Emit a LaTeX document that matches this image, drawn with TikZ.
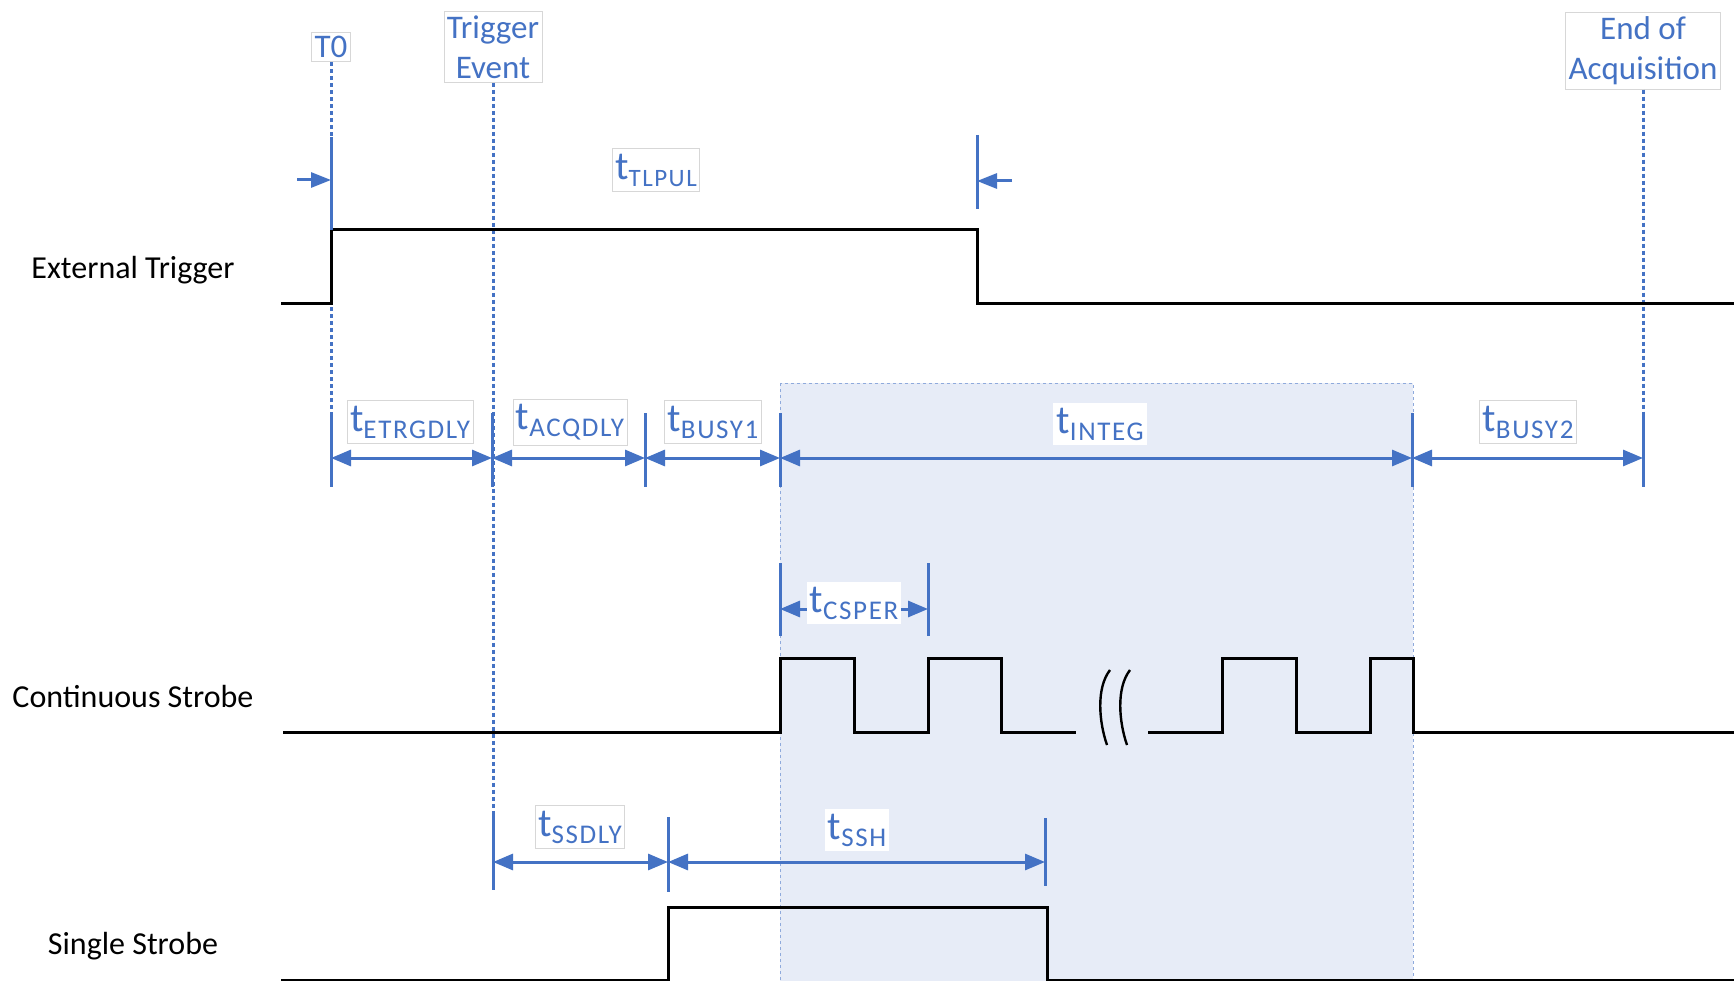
\documentclass[tikz,border=0pt]{standalone}
\usepackage{fontspec}
\setmainfont{Carlito}
\newfontfamily\subfont[LetterSpace=6]{Carlito}
\usetikzlibrary{arrows.meta}
\definecolor{lblue}{HTML}{4472C4}
\definecolor{shade}{RGB}{231,236,247}
\definecolor{shadeb}{HTML}{8FAADC}
\definecolor{boxg}{RGB}{215,215,215}
\newcommand{\tsub}[2][27]{{\fontsize{40}{44}\selectfont t}\raisebox{-7pt}{\subfont\fontsize{#1}{30}\selectfont #2}}
\begin{document}
\begin{tikzpicture}[x=1pt,y=-1pt,
  sig/.style={line width=3pt,black,line join=miter},
  tickbar/.style={line width=3pt,lblue},
  dimarr/.style={line width=3pt,lblue,{Triangle[length=20pt,width=16pt]}-{Triangle[length=20pt,width=16pt]}},
  onearr/.style={line width=3pt,lblue,-{Triangle[length=20pt,width=15pt]}},
  dotl/.style={lblue,line width=3pt,dash pattern=on 4pt off 3pt},
  lab/.style={font=\fontsize{33}{40}\selectfont,lblue,align=center,fill=white,draw=boxg,line width=0.8pt,inner xsep=3pt,inner ysep=4pt},
  tlab/.style={lblue,fill=white,draw=boxg,line width=0.8pt,inner xsep=3pt,inner ysep=5pt},
  tlabn/.style={lblue,fill=white,inner xsep=3pt,inner ysep=5pt},
  sname/.style={font=\fontsize{32}{40}\selectfont,black,inner sep=0pt}
]
\useasboundingbox (0,0) rectangle (1734,981);
\fill[white] (0,0) rectangle (1734,981);
% integration window
\draw[shadeb,fill=shade,dashed,line width=0.8pt] (780,383) rectangle (1413,990);

% signal names
\node[sname] (ext) at (133,270) {External Trigger};
\node[sname] (cont) at (133,697) {Continuous Strobe};
\node[sname] (single) at (133,946) {Single Strobe};

% event labels
\node[lab] (T0) at (331,47) {T0};
\node[lab] (trig) at (493,47) {Trigger\\Event};
\node[lab] (eoa) at (1643,51) {End of\\Acquisition};

% dotted event lines
\coordinate (T0b) at (331,413);
\coordinate (trigb) at (493,813);
\coordinate (eoab) at (1643,413);
\draw[dotl] (T0.south) -- (T0b);
\draw[dotl] (trig.south) -- (trigb);
\draw[dotl] (eoa.south) -- (eoab);

% signals
\draw[sig] (281,304) -- (331,304) -- (331,230) -- (977,230) -- (977,304) -- (1734,304);
\draw[sig] (283,732) -- (780,732) -- (780,658) -- (854,658) -- (854,732) -- (928,732) -- (928,658) -- (1001,658) -- (1001,732) -- (1076,732);
\draw[sig] (1148,732) -- (1222,732) -- (1222,658) -- (1296,658) -- (1296,732) -- (1370,732) -- (1370,658) -- (1413,658) -- (1413,732) -- (1734,732);
\draw[sig] (281,980) -- (668,980) -- (668,907) -- (1047,907) -- (1047,980) -- (1734,980);
% break symbol
\draw[line width=2.4pt] (1110,670) .. controls (1096,688) and (1099,722) .. (1107,745);
\draw[line width=2.4pt] (1130,670) .. controls (1116,688) and (1119,722) .. (1127,745);

% tTLPUL markers
\coordinate (pa) at (297,180);
\coordinate (pb) at (331,180);
\coordinate (qa) at (1012,181);
\coordinate (qb) at (977,181);
\draw[tickbar] (331,137) -- (331,230);
\draw[tickbar] (977,135) -- (977,209);
\draw[onearr] (pa) -- (pb);
\draw[onearr] (qa) -- (qb);
\node[tlab] (tlpul) at (656,170) {\tsub[25]{TLPUL}};

% main timing row
\foreach \x in {331,492,645,780,1412,1643}{\draw[tickbar] (\x,413) -- (\x,487);}
\coordinate (d1) at (331,458);
\coordinate (d2) at (492,458);
\coordinate (d3) at (645,458);
\coordinate (d4) at (780,458);
\coordinate (d5) at (1412,458);
\coordinate (d6) at (1643,458);
\draw[dimarr] (d1) -- (d2);
\draw[dimarr] (d2) -- (d3);
\draw[dimarr] (d3) -- (d4);
\draw[dimarr] (d4) -- (d5);
\draw[dimarr] (d5) -- (d6);
\node[tlab] (etrg) at (410,422) {\tsub{ETRGDLY}};
\node[tlab] (acq) at (570,422) {\tsub{ACQDLY}};
\node[tlab] (busy1) at (713,422) {\tsub{BUSY1}};
\node[tlabn] (integ) at (1100,424) {\tsub{INTEG}};
\node[tlab] (busy2) at (1528,422) {\tsub{BUSY2}};

% tCSPER
\draw[tickbar] (780,563) -- (780,636);
\draw[tickbar] (928,563) -- (928,636);
\coordinate (c1) at (780,609);
\coordinate (c2) at (928,609);
\draw[dimarr] (c1) -- (c2);
\node[tlabn] (csper) at (854,603) {\tsub{CSPER}};

% single strobe timing
\draw[tickbar] (493,813) -- (493,890);
\draw[tickbar] (668,817) -- (668,892);
\draw[tickbar] (1045,818) -- (1045,886);
\coordinate (s1) at (493,862);
\coordinate (s2) at (668,862);
\coordinate (s3) at (1045,862);
\draw[dimarr] (s1) -- (s2);
\draw[dimarr] (s2) -- (s3);
\node[tlab] (ssdly) at (580,827) {\tsub{SSDLY}};
\node[tlabn] (ssh) at (857,830) {\tsub{SSH}};
\end{tikzpicture}
\end{document}
